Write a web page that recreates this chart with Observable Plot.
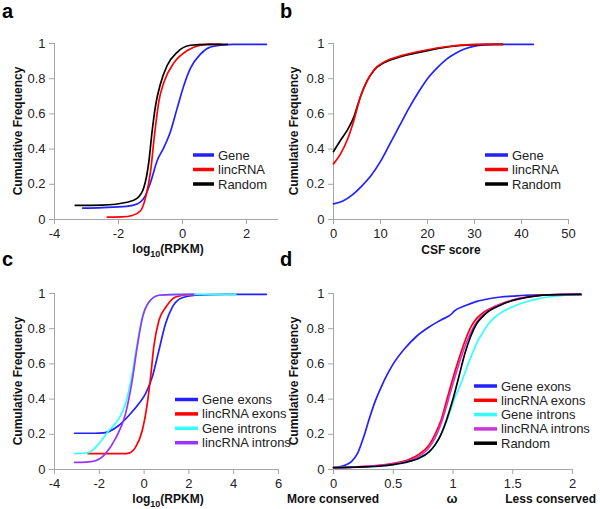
<!DOCTYPE html>
<html><head><meta charset="utf-8">
<script src="https://cdn.jsdelivr.net/npm/d3@7"></script>
<script src="https://cdn.jsdelivr.net/npm/@observablehq/plot@0.6"></script>
<style>
html,body{margin:0;padding:0;background:#fff;}
#fig{position:relative;width:600px;height:509px;overflow:hidden;background:#fff;font-family:"Liberation Sans",Arial,sans-serif;}
</style></head><body><div id="fig"></div>
<script>
// ---------- shared ----------
const yTicks = [0, 0.2, 0.4, 0.6, 0.8, 1];
const yTitle = "Cumulative Frequency";

// ---------- panel a : log10(RPKM) ----------
const aXTicks = [-4, -2, 0, 2];
const aGeneX = [-3.12,-2.5,-1.75,-1.4,-1.16,-1.0,-0.79,-0.58,-0.375,-0.17,0.04,0.25,0.56,0.875,1.2,1.6,2.62];
const aGeneY = [0.065,0.068,0.075,0.09,0.136,0.21,0.335,0.41,0.50,0.63,0.76,0.86,0.94,0.98,0.99,0.995,0.995];
const aLincX = [-2.35,-1.9,-1.57,-1.31,-1.16,-1.0,-0.875,-0.74,-0.58,-0.27,0.15,0.56,0.875,1.2];
const aLincY = [0.013,0.015,0.023,0.05,0.12,0.27,0.48,0.67,0.78,0.89,0.96,0.99,0.995,0.995];
const aRandX = [-3.35,-2.5,-1.73,-1.42,-1.21,-1.05,-0.95,-0.84,-0.69,-0.48,-0.17,0.25,0.77,1.4];
const aRandY = [0.08,0.082,0.098,0.12,0.18,0.33,0.50,0.65,0.77,0.875,0.95,0.99,0.995,0.995];

// ---------- panel b : CSF score ----------
const bXTicks = [0, 10, 20, 30, 40, 50];
const bGeneX = [0,2,4,6,8,10,12,14,16,18,20,22,24,26,28,30,32,35,42.5];
const bGeneY = [0.089,0.105,0.14,0.19,0.25,0.33,0.43,0.53,0.63,0.72,0.80,0.86,0.91,0.945,0.97,0.985,0.992,0.995,0.995];
const bLincX = [0,1.5,2.9,4.3,5.7,7.2,8.6,10.7,14.3,19.2,24.2,29,33,36];
const bLincY = [0.316,0.373,0.45,0.56,0.695,0.79,0.85,0.894,0.93,0.96,0.983,0.994,0.995,0.995];
const bRandX = [0,1.5,2.9,4.3,5.7,7.2,8.6,10.7,14.3,19.2,24.2,29,33,36];
const bRandY = [0.386,0.45,0.506,0.58,0.695,0.79,0.847,0.89,0.925,0.955,0.98,0.992,0.995,0.995];

// ---------- panel c : log10(RPKM), exons / introns ----------
const cXTicks = [-4, -2, 0, 2, 4, 6];
const cGeneExX = [-3.1,-2.2,-1.8,-1.58,-1.13,-0.68,-0.24,0.06,0.36,0.66,0.96,1.25,1.7,2.3,3,4,5.45];
const cGeneExY = [0.206,0.206,0.208,0.215,0.25,0.307,0.373,0.43,0.524,0.676,0.83,0.92,0.976,0.99,0.994,0.995,0.995];
const cLincExX = [-2.5,-1.5,-0.9,-0.68,-0.38,-0.085,0.14,0.29,0.43,0.66,0.96,1.4,2.0,2.3];
const cLincExY = [0.09,0.09,0.09,0.093,0.127,0.22,0.373,0.524,0.695,0.847,0.92,0.98,0.994,0.995];
const cGeneInX = [-3.1,-2.5,-2.17,-1.58,-1.13,-0.83,-0.53,-0.31,-0.085,0.21,0.66,1.2,2,3,4.1];
const cGeneInY = [0.09,0.095,0.125,0.22,0.288,0.373,0.544,0.714,0.865,0.95,0.99,0.994,0.995,0.995,0.995];
const cLincInX = [-3.1,-2.6,-2.17,-1.72,-1.28,-0.83,-0.53,-0.31,-0.085,0.21,0.66,1.2,2.2];
const cLincInY = [0.04,0.042,0.05,0.09,0.175,0.316,0.506,0.695,0.856,0.95,0.99,0.994,0.995];

// ---------- panel d : omega ----------
const dXTicks = [0, 0.5, 1, 1.5, 2];
const dGeneExX = [0,0.05,0.1,0.15,0.2,0.25,0.3,0.35,0.4,0.45,0.5,0.6,0.7,0.8,0.9,0.99,1.01,1.1,1.2,1.3,1.4,1.5,1.6,1.8,2.07];
const dGeneExY = [0.012,0.015,0.025,0.045,0.09,0.18,0.29,0.39,0.47,0.54,0.6,0.69,0.76,0.81,0.85,0.885,0.9,0.93,0.955,0.97,0.98,0.985,0.99,0.993,0.995];
const dLincExX = [0,0.2,0.4,0.5,0.6,0.7,0.8,0.85,0.9,0.95,1.0,1.05,1.1,1.15,1.2,1.25,1.3,1.4,1.5,1.6,1.7,1.8,2.07];
const dLincExY = [0.01,0.015,0.025,0.035,0.05,0.08,0.14,0.2,0.28,0.4,0.52,0.63,0.73,0.81,0.86,0.89,0.91,0.94,0.963,0.978,0.988,0.993,0.995];
const dGeneInX = [0,0.2,0.4,0.5,0.6,0.7,0.8,0.85,0.9,0.95,0.99,1.01,1.05,1.1,1.15,1.2,1.25,1.3,1.35,1.4,1.5,1.6,1.7,1.8,1.9,2.07];
const dGeneInY = [0.01,0.014,0.02,0.028,0.04,0.06,0.1,0.14,0.2,0.28,0.36,0.4,0.46,0.55,0.64,0.72,0.78,0.83,0.865,0.89,0.925,0.95,0.968,0.98,0.988,0.993];
const dLincInX = [0,0.2,0.4,0.5,0.6,0.7,0.8,0.85,0.9,0.95,1.0,1.05,1.1,1.15,1.2,1.25,1.3,1.4,1.5,1.6,1.7,1.8,2.07];
const dLincInY = [0.01,0.015,0.023,0.032,0.045,0.07,0.125,0.18,0.26,0.37,0.49,0.6,0.7,0.78,0.84,0.88,0.905,0.94,0.962,0.977,0.987,0.992,0.995];
const dRandX = [0,0.2,0.4,0.5,0.6,0.7,0.8,0.85,0.9,0.95,1.0,1.05,1.1,1.15,1.2,1.25,1.3,1.4,1.5,1.6,1.7,1.8,2.07];
const dRandY = [0.01,0.014,0.02,0.028,0.04,0.06,0.1,0.14,0.2,0.29,0.4,0.53,0.66,0.76,0.83,0.87,0.9,0.935,0.96,0.976,0.987,0.992,0.995];

// colours
const BLUE = "#2222ff", RED = "#ff0000", BLACK = "#000000", CYAN = "#33ffff", VIOLET = "#9933ff", MAGENTA = "#cc33dd";

const fig = document.getElementById("fig");
const AXIS = "#a6a6a6", TXT = "#222222";

function panel({left, top, width, height, mt, mb, ml, mr, xDomain, xTicks, series}) {
  const p = Plot.plot({
    width, height, marginTop: mt, marginBottom: mb, marginLeft: ml, marginRight: mr,
    x: {domain: xDomain},
    y: {domain: [0, 1]},
    style: {fontFamily: '"Liberation Sans", Arial, sans-serif', fontSize: "13px", background: "transparent", overflow: "visible"},
    marks: [
      Plot.ruleY([0], {stroke: AXIS}),
      Plot.ruleX([xDomain[0]], {stroke: AXIS}),
      Plot.axisX({ticks: xTicks, tickFormat: d => String(d), tickSize: 5, tickPadding: 4, stroke: AXIS, fill: TXT, label: null}),
      Plot.axisY({ticks: yTicks, tickFormat: d => String(d), tickSize: 5, tickPadding: 4, stroke: AXIS, fill: TXT, label: null}),
      ...series.map(s => Plot.line(s.x.map((x, i) => ({x, y: s.y[i]})), {x: "x", y: "y", stroke: s.color, strokeWidth: 1.7, curve: "monotone-x"}))
    ]
  });
  p.style.position = "absolute";
  p.style.left = left + "px";
  p.style.top = top + "px";
  fig.appendChild(p);
}

const aSeries = [
  {name: "Gene", x: aGeneX, y: aGeneY, color: BLUE},
  {name: "lincRNA", x: aLincX, y: aLincY, color: RED},
  {name: "Random", x: aRandX, y: aRandY, color: BLACK}
];
const bSeries = [
  {name: "Gene", x: bGeneX, y: bGeneY, color: BLUE},
  {name: "Random", x: bRandX, y: bRandY, color: BLACK},
  {name: "lincRNA", x: bLincX, y: bLincY, color: RED}
];
const cSeries = [
  {name: "Gene exons", x: cGeneExX, y: cGeneExY, color: BLUE},
  {name: "lincRNA exons", x: cLincExX, y: cLincExY, color: RED},
  {name: "Gene introns", x: cGeneInX, y: cGeneInY, color: CYAN},
  {name: "lincRNA introns", x: cLincInX, y: cLincInY, color: VIOLET}
];
const dSeries = [
  {name: "Gene exons", x: dGeneExX, y: dGeneExY, color: BLUE},
  {name: "lincRNA exons", x: dLincExX, y: dLincExY, color: RED},
  {name: "Gene introns", x: dGeneInX, y: dGeneInY, color: CYAN},
  {name: "lincRNA introns", x: dLincInX, y: dLincInY, color: MAGENTA},
  {name: "Random", x: dRandX, y: dRandY, color: BLACK}
];

panel({left: 0, top: 0, width: 300, height: 255, mt: 43, mb: 36, ml: 54, mr: 22, xDomain: [-4, 3], xTicks: aXTicks, series: aSeries});
panel({left: 279, top: 0, width: 321, height: 255, mt: 43, mb: 36, ml: 54, mr: 32, xDomain: [0, 50], xTicks: bXTicks, series: bSeries});
panel({left: 0, top: 250, width: 300, height: 259, mt: 43, mb: 40, ml: 54, mr: 22, xDomain: [-4, 6], xTicks: cXTicks, series: cSeries});
panel({left: 279, top: 250, width: 321, height: 259, mt: 43, mb: 40, ml: 54, mr: 28, xDomain: [0, 2], xTicks: dXTicks, series: dSeries});

// ---------- overlay: panel letters, axis titles, legends ----------
const svg = d3.select(fig).append("svg")
  .attr("width", 600).attr("height", 509)
  .style("position", "absolute").style("left", "0px").style("top", "0px")
  .style("font-family", '"Liberation Sans", Arial, sans-serif');

const letters = [["a", 2, 18], ["b", 280, 18], ["c", 2, 266], ["d", 280, 266]];
letters.forEach(([t, x, y]) => svg.append("text").attr("x", x).attr("y", y).attr("font-size", 20).attr("font-weight", "bold").attr("fill", "#000").text(t));

// y titles
[[22, 131], [298, 131], [22, 381], [298, 381]].forEach(([x, y]) =>
  svg.append("text").attr("transform", `translate(${x},${y}) rotate(-90)`).attr("text-anchor", "middle")
    .attr("font-size", 12).attr("font-weight", "bold").attr("fill", "#111").text(yTitle));

function logLabel(cx, y) {
  const t = svg.append("text").attr("x", cx).attr("y", y).attr("text-anchor", "middle")
    .attr("font-size", 12).attr("font-weight", "bold").attr("fill", "#111");
  t.append("tspan").text("log");
  t.append("tspan").attr("font-size", 9).attr("dy", 3.5).text("10");
  t.append("tspan").attr("dy", -3.5).text("(RPKM)");
}
logLabel(168, 253);
logLabel(168, 503);
svg.append("text").attr("x", 451).attr("y", 254).attr("text-anchor", "middle").attr("font-size", 12).attr("font-weight", "bold").attr("fill", "#111").text("CSF score");
svg.append("text").attr("x", 333).attr("y", 503).attr("text-anchor", "middle").attr("font-size", 12).attr("font-weight", "bold").attr("fill", "#111").text("More conserved");
svg.append("text").attr("x", 452).attr("y", 503).attr("text-anchor", "middle").attr("font-size", 13).attr("font-weight", "bold").attr("fill", "#111").text("ω");
svg.append("text").attr("x", 596).attr("y", 503).attr("text-anchor", "end").attr("font-size", 12).attr("font-weight", "bold").attr("fill", "#111").text("Less conserved");

function legend(series, x0, y0, step, swatchW) {
  series.forEach((s, i) => {
    const y = y0 + i * step;
    svg.append("line").attr("x1", x0).attr("x2", x0 + swatchW).attr("y1", y).attr("y2", y)
      .attr("stroke", s.color).attr("stroke-width", 3.5);
    svg.append("text").attr("x", x0 + swatchW + 4).attr("y", y + 4.5).attr("font-size", 13).attr("fill", TXT).text(s.name);
  });
}
legend([aSeries[0], aSeries[1], aSeries[2]], 193, 155, 14.5, 21);
legend([bSeries[0], bSeries[2], bSeries[1]], 485, 155, 14.5, 23);
legend(cSeries, 175, 399.5, 14.4, 23);
legend(dSeries, 474, 386, 14.3, 23);
</script>
</body></html>
